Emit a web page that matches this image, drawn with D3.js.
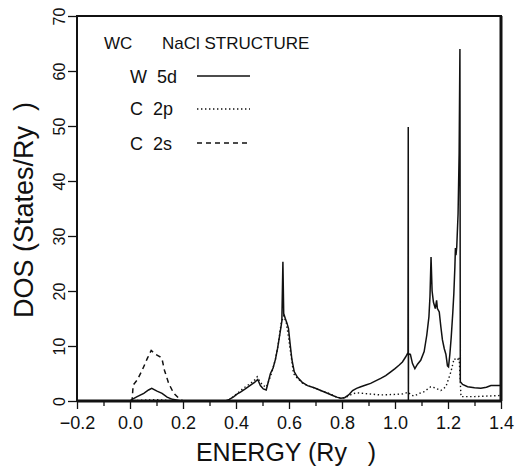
<!DOCTYPE html>
<html><head><meta charset="utf-8">
<script src="https://cdn.jsdelivr.net/npm/d3@7"></script>
<style>
body{margin:0;background:#fff}
svg text{font-family:"Liberation Sans",Arial,sans-serif;fill:#111}
</style>
</head><body>
<svg id="c" width="516" height="469"></svg>
<script>
// ---------- DATA ----------
const xMajorTicks = [-0.2, 0.0, 0.2, 0.4, 0.6, 0.8, 1.0, 1.2, 1.4];
const xTickLabels = ["\u22120.2", "0.0", "0.2", "0.4", "0.6", "0.8", "1.0", "1.2", "1.4"];
const xMinorTicks = [-0.1, 0.1, 0.3, 0.5, 0.7, 0.9, 1.1, 1.3];
const yTicks = [0, 10, 20, 30, 40, 50, 60, 70];

const seriesNames = ["W 5d", "C 2p", "C 2s"];

const w5dEnergy = [-0.2,0.0,0.008,0.027,0.052,0.07,0.082,0.102,0.121,0.14,0.16,0.19,0.2,
  0.36,0.375,0.392,0.405,0.417,0.435,0.455,0.47,0.482,0.492,0.503,0.514,0.522,0.53,0.54,0.549,0.557,0.565,0.573,0.577,0.58,0.586,0.592,0.598,0.604,0.611,0.62,0.632,0.65,0.67,0.695,0.72,0.745,0.765,0.78,0.795,0.81,0.825,0.84,0.855,0.871,0.89,0.908,0.925,0.946,0.965,0.984,1.0,1.015,1.028,1.04,1.049,1.05,1.0505,1.051,1.058,1.066,1.075,1.085,1.097,1.11,1.12,1.128,1.132,1.136,1.14,1.145,1.152,1.157,1.16,1.167,1.173,1.179,1.186,1.192,1.198,1.202,1.207,1.212,1.218,1.222,1.226,1.228,1.23,1.233,1.238,1.242,1.245,1.2465,1.255,1.274,1.3,1.324,1.345,1.362,1.38,1.4];
const w5dDOS = [0,0,0.3,0.8,1.4,2.0,2.3,1.8,1.4,0.7,0.3,0.05,0,
  0,0.3,0.8,1.3,1.6,2.2,2.9,3.4,3.9,2.8,2.2,2.0,3.5,5.0,6.0,7.6,9.6,12.0,14.5,25.3,15.9,15.0,14.2,13.2,10.5,7.5,5.3,4.3,3.4,2.8,2.4,1.9,1.4,1.0,0.7,0.5,0.6,1.1,1.9,2.3,2.6,2.9,3.2,3.6,4.1,4.6,5.3,5.9,6.5,7.1,8.0,8.8,49.8,0,8.6,8.5,6.8,5.9,6.7,7.4,9.0,12.0,15.3,19.0,26.2,20.0,18.0,16.8,18.3,16.8,16.2,13.5,11.1,9.5,8.5,6.4,6.2,8.5,11.5,16.0,19.5,24.4,27.8,26.5,28.0,34.0,45.0,64.0,3.5,3.0,2.6,2.4,2.3,2.5,2.8,2.8,2.8];

const c2pEnergy = [-0.2,0.0,0.05,0.1,0.15,0.2,0.36,0.373,0.39,0.405,0.43,0.455,0.47,0.48,0.49,0.5,0.514,0.525,0.535,0.549,0.56,0.57,0.58,0.59,0.6,0.61,0.617,0.63,0.65,0.67,0.7,0.72,0.75,0.78,0.8,0.82,0.84,0.855,0.9,0.946,1.0,1.03,1.05,1.06,1.072,1.098,1.11,1.135,1.15,1.173,1.192,1.211,1.223,1.236,1.242,1.249,1.3,1.35,1.4];
const c2pDOS = [0,0,0.15,0.25,0.1,0,0,0.2,0.8,1.4,2.4,3.2,3.8,4.4,3.6,2.9,2.5,3.8,5.2,7.6,10.5,14.0,15.5,14.2,11.0,7.5,5.0,4.2,3.3,2.8,2.3,1.9,1.4,0.7,0.5,0.8,1.3,1.5,1.3,1.1,1.2,1.3,1.6,1.1,0.9,1.5,1.7,2.6,2.4,1.9,2.6,5.3,7.7,7.4,8.0,0.8,0.8,0.9,1.0];

const c2sEnergy = [0.0,0.008,0.012,0.027,0.046,0.065,0.08,0.096,0.115,0.121,0.13,0.146,0.165,0.184,0.2];
const c2sDOS = [0,0.2,2.9,3.8,5.6,7.7,9.2,8.5,8.0,7.6,5.6,3.2,1.4,0.5,0];

// ---------- CHART ----------
const svg = d3.select("#c");
const x = d3.scaleLinear().domain([-0.2, 1.4]).range([77, 501]);
const y = d3.scaleLinear().domain([0, 70]).range([401, 16]);

const line = d3.line().x(d => x(d[0])).y(d => y(d[1]));
const zip = (a, b) => a.map((v, i) => [v, b[i]]);

const styles = [
  {dash: null, w: 1.5},
  {dash: "1.4,2.6", w: 1.4},
  {dash: "5,4", w: 1.5}
];
const data = [zip(w5dEnergy, w5dDOS), zip(c2pEnergy, c2pDOS), zip(c2sEnergy, c2sDOS)];

data.forEach((d, i) => {
  svg.append("path").datum(d).attr("d", line)
    .attr("fill", "none").attr("stroke", "#111")
    .attr("stroke-width", styles[i].w)
    .attr("stroke-dasharray", styles[i].dash)
    .attr("stroke-linejoin", "miter");
});

// axes
const gxMinor = svg.append("g").attr("transform", "translate(0,401)")
  .call(d3.axisBottom(x).tickValues(xMinorTicks).tickSize(5).tickFormat(""));
const gx = svg.append("g").attr("transform", "translate(0,401)")
  .call(d3.axisBottom(x).tickValues(xMajorTicks).tickSize(8)
    .tickFormat((d, i) => xTickLabels[i]));
[gxMinor, gx].forEach(g => { g.select(".domain").remove(); g.selectAll("line").attr("stroke", "#111").attr("stroke-width", 1.3); });
gx.selectAll("text").attr("y", 28).attr("dy", 0)
  .attr("font-size", 18).attr("fill", "#111")
  .style("font-family", '"Liberation Sans",Arial,sans-serif');

const gy = svg.append("g").attr("transform", "translate(77,0)")
  .call(d3.axisLeft(y).tickValues(yTicks).tickSize(9));
gy.select(".domain").remove();
gy.selectAll("line").attr("stroke", "#111").attr("stroke-width", 1.3);
gy.selectAll("text").attr("x", 0).attr("y", 0).attr("dy", 0)
  .attr("transform", "translate(-12,0) rotate(-90)")
  .attr("text-anchor", "middle").attr("font-size", 16).attr("fill", "#111")
  .style("font-family", '"Liberation Sans",Arial,sans-serif');

// frame
svg.append("rect").attr("x", x(-0.2)).attr("y", y(70))
  .attr("width", x(1.4) - x(-0.2)).attr("height", y(0) - y(70))
  .attr("fill", "none").attr("stroke", "#111").attr("stroke-width", 2);
svg.append("line").attr("x1", x(-0.2)).attr("x2", x(1.4)).attr("y1", y(0)).attr("y2", y(0))
  .attr("stroke", "#111").attr("stroke-width", 3);
svg.append("line").attr("x1", x(1.4)).attr("x2", x(1.4)).attr("y1", y(70)).attr("y2", y(0))
  .attr("stroke", "#111").attr("stroke-width", 3);

// titles
svg.append("text").attr("x", 286).attr("y", 461).attr("text-anchor", "middle")
  .attr("font-size", 25).style("white-space", "pre").text("ENERGY (Ry   )");
svg.append("text").attr("transform", "translate(33,210) rotate(-90)").attr("text-anchor", "middle")
  .attr("font-size", 27).style("white-space", "pre").text("DOS (States/Ry  )");

// legend
svg.append("text").attr("x", 104).attr("y", 49).attr("font-size", 17).text("WC");
svg.append("text").attr("x", 162).attr("y", 49).attr("font-size", 17).text("NaCl STRUCTURE");
const legY = [83, 115, 150];
const legLineY = [76, 109, 143];
seriesNames.forEach((n, i) => {
  svg.append("text").attr("x", 130).attr("y", legY[i]).attr("font-size", 18)
    .style("white-space", "pre").text(n.replace(" ", "  "));
  svg.append("line").attr("x1", 197).attr("x2", 250).attr("y1", legLineY[i]).attr("y2", legLineY[i])
    .attr("stroke", "#111").attr("stroke-width", styles[i].w)
    .attr("stroke-dasharray", styles[i].dash);
});
</script>
</body></html>
